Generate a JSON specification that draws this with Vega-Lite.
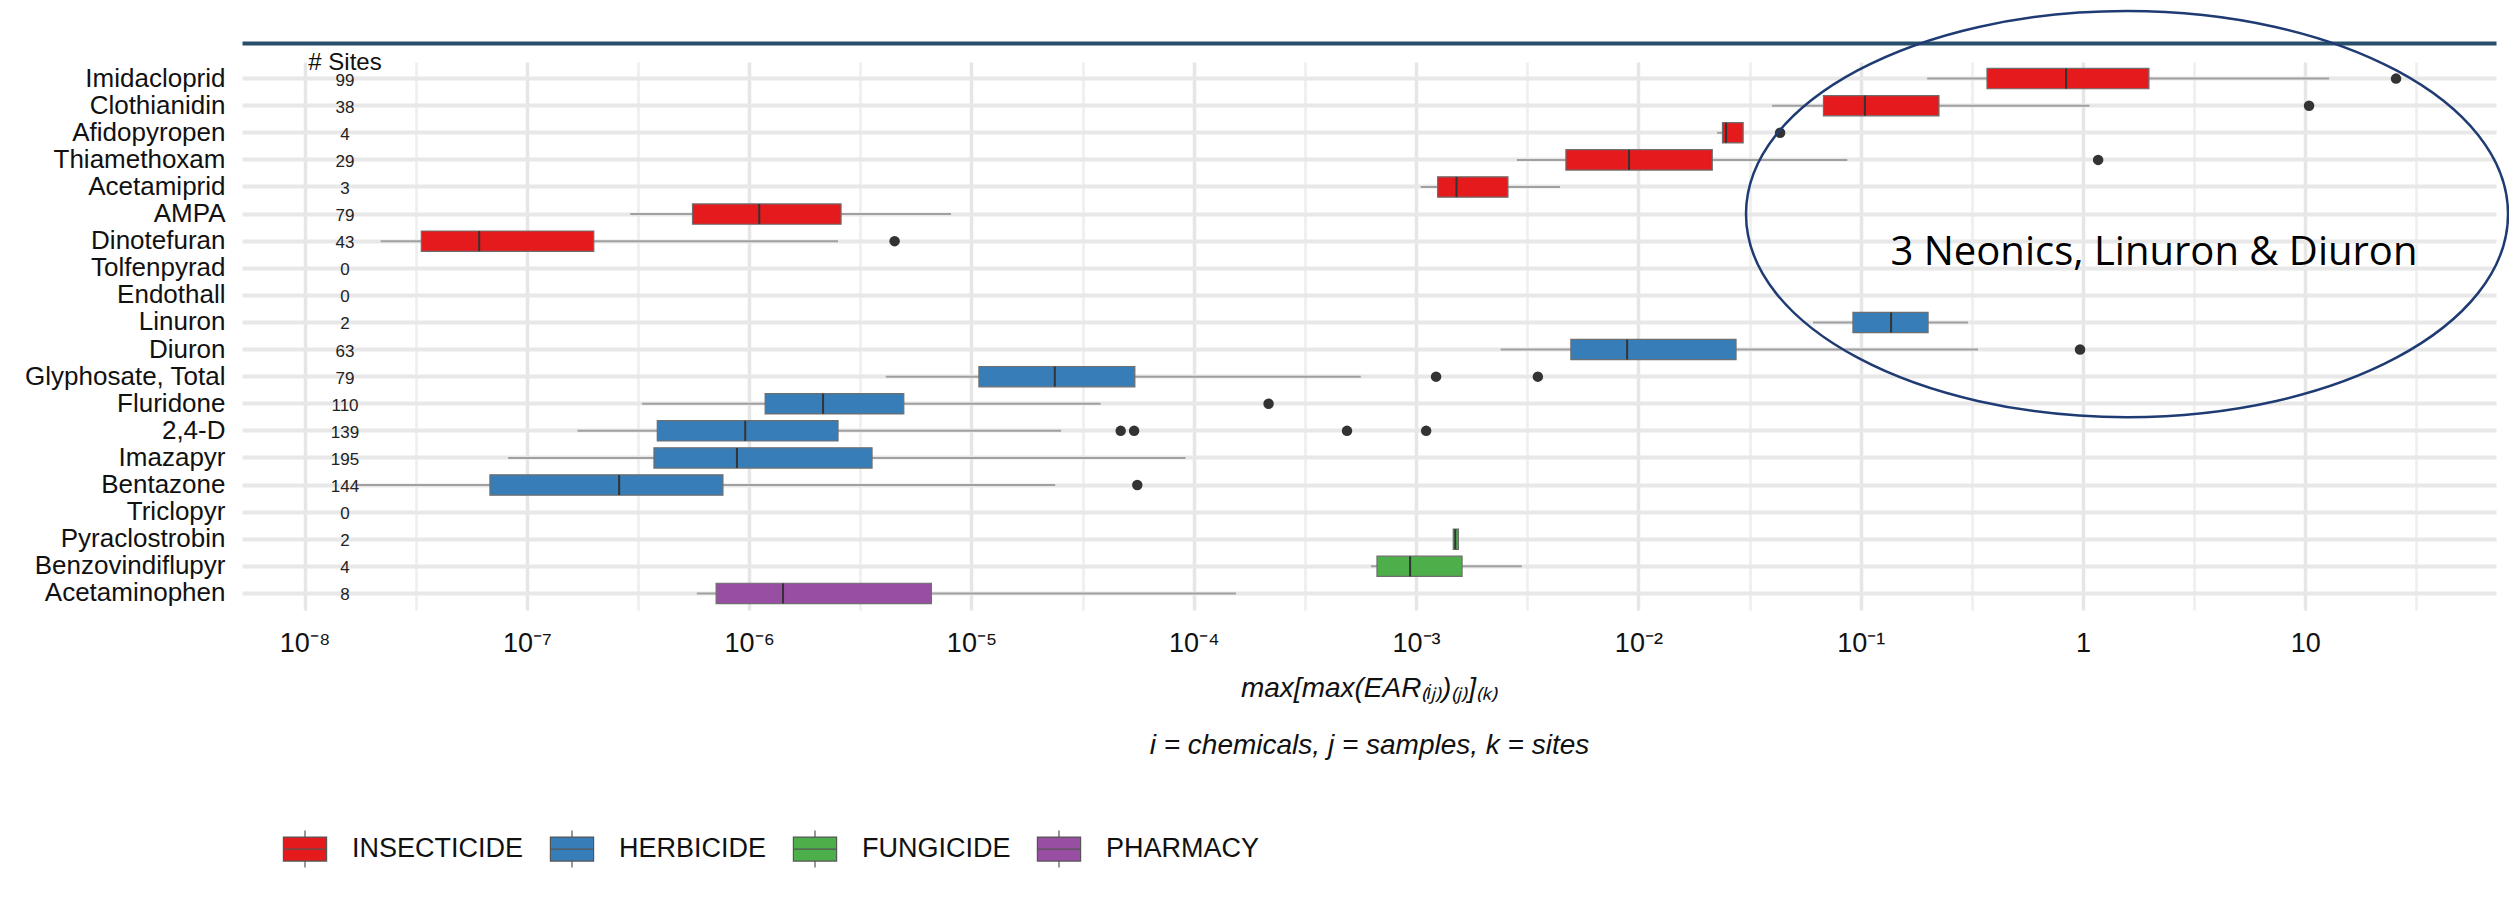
{
  "$schema": "https://vega.github.io/schema/vega-lite/v6.json",
  "width": 2254,
  "height": 548,
  "autosize": {"type": "none"},
  "padding": {"left": 242, "top": 62, "right": 13, "bottom": 294},
  "background": "white",
  "config": {
    "view": {"stroke": null},
    "font": "Liberation Sans, Arial, sans-serif",
    "text": {"font": "Liberation Sans, Arial, sans-serif"}
  },
  "datasets": {
    "boxes": [
      {"chem": "Imidacloprid", "cls": "INSECTICIDE", "lo": 0.199, "q1": 0.37, "med": 0.839, "q3": 1.98, "hi": 12.8},
      {"chem": "Clothianidin", "cls": "INSECTICIDE", "lo": 0.0399, "q1": 0.068, "med": 0.1045, "q3": 0.225, "hi": 1.07},
      {"chem": "Afidopyropen", "cls": "INSECTICIDE", "lo": 0.0226, "q1": 0.0239, "med": 0.0248, "q3": 0.0296, "hi": 0.0296},
      {"chem": "Thiamethoxam", "cls": "INSECTICIDE", "lo": 0.00284, "q1": 0.00472, "med": 0.00908, "q3": 0.0215, "hi": 0.0871},
      {"chem": "Acetamiprid", "cls": "INSECTICIDE", "lo": 0.00105, "q1": 0.00125, "med": 0.00152, "q3": 0.00259, "hi": 0.00444},
      {"chem": "AMPA", "cls": "INSECTICIDE", "lo": 2.92e-7, "q1": 5.56e-7, "med": 1.11e-6, "q3": 2.59e-6, "hi": 8.09e-6},
      {"chem": "Dinotefuran", "cls": "INSECTICIDE", "lo": 2.2e-8, "q1": 3.35e-8, "med": 6.1e-8, "q3": 2.0e-7, "hi": 2.51e-6},
      {"chem": "Linuron", "cls": "HERBICIDE", "lo": 0.061, "q1": 0.0923, "med": 0.137, "q3": 0.201, "hi": 0.304},
      {"chem": "Diuron", "cls": "HERBICIDE", "lo": 0.0024, "q1": 0.00497, "med": 0.0089, "q3": 0.0275, "hi": 0.337},
      {"chem": "Glyphosate, Total", "cls": "HERBICIDE", "lo": 4.12e-6, "q1": 1.08e-5, "med": 2.37e-5, "q3": 5.43e-5, "hi": 5.64e-4},
      {"chem": "Fluridone", "cls": "HERBICIDE", "lo": 3.3e-7, "q1": 1.18e-6, "med": 2.15e-6, "q3": 4.96e-6, "hi": 3.81e-5},
      {"chem": "2,4-D", "cls": "HERBICIDE", "lo": 1.69e-7, "q1": 3.86e-7, "med": 9.6e-7, "q3": 2.51e-6, "hi": 2.53e-5},
      {"chem": "Imazapyr", "cls": "HERBICIDE", "lo": 8.24e-8, "q1": 3.73e-7, "med": 8.81e-7, "q3": 3.57e-6, "hi": 9.18e-5},
      {"chem": "Bentazone", "cls": "HERBICIDE", "lo": 1.69e-8, "q1": 6.82e-8, "med": 2.6e-7, "q3": 7.62e-7, "hi": 2.38e-5},
      {"chem": "Pyraclostrobin", "cls": "FUNGICIDE", "lo": 0.00147, "q1": 0.00147, "med": 0.0015, "q3": 0.00155, "hi": 0.00155},
      {"chem": "Benzovindiflupyr", "cls": "FUNGICIDE", "lo": 6.27e-4, "q1": 6.67e-4, "med": 9.4e-4, "q3": 0.00161, "hi": 0.00299},
      {"chem": "Acetaminophen", "cls": "PHARMACY", "lo": 5.82e-7, "q1": 7.1e-7, "med": 1.42e-6, "q3": 6.6e-6, "hi": 1.55e-4}
    ],
    "outliers": [
      {"chem": "Imidacloprid", "v": 25.6},
      {"chem": "Clothianidin", "v": 10.4},
      {"chem": "Afidopyropen", "v": 0.0434},
      {"chem": "Thiamethoxam", "v": 1.17},
      {"chem": "Dinotefuran", "v": 4.51e-6},
      {"chem": "Diuron", "v": 0.97},
      {"chem": "Glyphosate, Total", "v": 0.00123},
      {"chem": "Glyphosate, Total", "v": 0.00353},
      {"chem": "Fluridone", "v": 2.17e-4},
      {"chem": "2,4-D", "v": 4.69e-5},
      {"chem": "2,4-D", "v": 5.39e-5},
      {"chem": "2,4-D", "v": 4.89e-4},
      {"chem": "2,4-D", "v": 0.00111},
      {"chem": "Bentazone", "v": 5.57e-5}
    ],
    "sites": [
      {"chem": "Imidacloprid", "n": 99},
      {"chem": "Clothianidin", "n": 38},
      {"chem": "Afidopyropen", "n": 4},
      {"chem": "Thiamethoxam", "n": 29},
      {"chem": "Acetamiprid", "n": 3},
      {"chem": "AMPA", "n": 79},
      {"chem": "Dinotefuran", "n": 43},
      {"chem": "Tolfenpyrad", "n": 0},
      {"chem": "Endothall", "n": 0},
      {"chem": "Linuron", "n": 2},
      {"chem": "Diuron", "n": 63},
      {"chem": "Glyphosate, Total", "n": 79},
      {"chem": "Fluridone", "n": 110},
      {"chem": "2,4-D", "n": 139},
      {"chem": "Imazapyr", "n": 195},
      {"chem": "Bentazone", "n": 144},
      {"chem": "Triclopyr", "n": 0},
      {"chem": "Pyraclostrobin", "n": 2},
      {"chem": "Benzovindiflupyr", "n": 4},
      {"chem": "Acetaminophen", "n": 8}
    ]
  },
  "resolve": {"axis": {"x": "independent"}},
  "layer": [
    {
      "data": {"name": "boxes"},
      "mark": {"type": "rule", "color": "#a0a0a0", "strokeWidth": 2},
      "encoding": {
        "y": {
          "field": "chem", "type": "nominal",
          "scale": {
            "type": "band",
            "domain": ["Imidacloprid", "Clothianidin", "Afidopyropen", "Thiamethoxam", "Acetamiprid", "AMPA", "Dinotefuran", "Tolfenpyrad", "Endothall", "Linuron", "Diuron", "Glyphosate, Total", "Fluridone", "2,4-D", "Imazapyr", "Bentazone", "Triclopyr", "Pyraclostrobin", "Benzovindiflupyr", "Acetaminophen"],
            "paddingInner": 0.25, "paddingOuter": 0.2375
          },
          "axis": {
            "title": null, "domain": false, "ticks": false, "tickSize": 0,
            "labelFontSize": 26, "labelColor": "#111111", "labelPadding": 17, "labelLimit": 0,
            "labelFont": "Liberation Sans, Arial, sans-serif",
            "grid": true, "gridColor": "#e8e8e8", "gridWidth": 4
          }
        },
        "x": {
          "field": "lo", "type": "quantitative",
          "scale": {"type": "log", "domain": [5.23e-9, 72.1], "nice": false},
          "axis": {
            "orient": "bottom",
            "values": [1e-8, 3.1623e-8, 1e-7, 3.1623e-7, 1e-6, 3.1623e-6, 1e-5, 3.1623e-5, 1e-4, 3.1623e-4, 0.001, 0.0031623, 0.01, 0.031623, 0.1, 0.31623, 1, 3.1623, 10, 31.623],
            "labelExpr": "abs(log(datum.value)/LN10 - round(log(datum.value)/LN10)) > 0.25 ? '' : (round(log(datum.value)/LN10) == 0 ? '1' : (round(log(datum.value)/LN10) == 1 ? '10' : '10⁻' + ['⁰','¹','²','³','⁴','⁵','⁶','⁷','⁸','⁹'][-round(log(datum.value)/LN10)]))",
            "labelOverlap": false, "labelFlush": false,
            "labelFontSize": 27, "labelColor": "#111111", "labelPadding": 20,
            "labelFont": "Liberation Sans, Arial, sans-serif",
            "ticks": false, "tickSize": 0, "domain": false,
            "grid": true,
            "gridColor": {"condition": {"test": "abs(log(datum.value)/LN10 - round(log(datum.value)/LN10)) > 0.25", "value": "#eeeeee"}, "value": "#e6e6e6"},
            "gridWidth": {"condition": {"test": "abs(log(datum.value)/LN10 - round(log(datum.value)/LN10)) > 0.25", "value": 2.5}, "value": 3.5},
            "title": ["max[max(EAR₍ᵢⱼ₎)₍ⱼ₎]₍ₖ₎", "i = chemicals, j = samples, k = sites"],
            "titleFont": "Liberation Sans, Arial, sans-serif",
            "titleFontSize": 28, "titleFontStyle": "italic", "titleFontWeight": "normal",
            "titleColor": "#111111", "titleLineHeight": 57, "titlePadding": 18
          }
        },
        "x2": {"field": "hi"}
      }
    },
    {
      "data": {"name": "boxes"},
      "mark": {"type": "bar", "stroke": "#6e6e6e", "strokeWidth": 1.2, "opacity": 1},
      "encoding": {
        "y": {"field": "chem", "type": "nominal"},
        "x": {"field": "q1", "type": "quantitative", "axis": null},
        "x2": {"field": "q3"},
        "color": {
          "field": "cls", "type": "nominal",
          "scale": {"domain": ["INSECTICIDE", "HERBICIDE", "FUNGICIDE", "PHARMACY"], "range": ["#E41A1C", "#377EB8", "#4DAF4A", "#984EA3"]},
          "legend": {
            "orient": "none", "legendX": 35, "legendY": 759, "direction": "horizontal",
            "title": null, "padding": 0,
            "symbolType": "M-0.8,-0.444H0.8V0.444H-0.8Z M-0.8,0H0.8 M0,-0.444V-0.685 M0,0.444V0.685",
            "symbolSize": 2916, "symbolStrokeColor": "#555555", "symbolStrokeWidth": 1.2, "symbolOpacity": 1,
            "labelFontSize": 27, "labelColor": "#111111", "labelOffset": 19, "columnPadding": 20, "labelLimit": 0,
            "labelFont": "Liberation Sans, Arial, sans-serif"
          }
        }
      }
    },
    {
      "data": {"name": "boxes"},
      "mark": {"type": "tick", "color": "#333333", "thickness": 2, "size": 20, "opacity": 1},
      "encoding": {
        "y": {"field": "chem", "type": "nominal"},
        "x": {"field": "med", "type": "quantitative", "axis": null}
      }
    },
    {
      "data": {"name": "outliers"},
      "mark": {"type": "circle", "color": "#333333", "opacity": 1, "size": 110},
      "encoding": {
        "y": {"field": "chem", "type": "nominal"},
        "x": {
          "field": "v", "type": "quantitative",
          "axis": {
            "orient": "top", "offset": 19, "domain": true, "domainColor": "#284e6b", "domainWidth": 4,
            "labels": false, "ticks": false, "grid": false, "title": null
          }
        }
      }
    },
    {
      "data": {"name": "sites"},
      "mark": {"type": "text", "fontSize": 17, "color": "#222222", "baseline": "middle", "align": "center", "dy": 2},
      "encoding": {
        "y": {"field": "chem", "type": "nominal"},
        "x": {"datum": 1.52e-8, "type": "quantitative", "axis": null},
        "text": {"field": "n", "type": "quantitative"}
      }
    },
    {
      "data": {"values": [{"label": "# Sites"}]},
      "mark": {"type": "text", "fontSize": 24, "color": "#111111", "baseline": "alphabetic", "align": "center", "dy": -9},
      "encoding": {
        "y": {"datum": "Imidacloprid", "type": "nominal"},
        "x": {"datum": 1.52e-8, "type": "quantitative", "axis": null},
        "text": {"field": "label", "type": "nominal"}
      }
    },
    {
      "data": {"values": [{"label": "3 Neonics, Linuron & Diuron"}]},
      "mark": {"type": "point", "shape": "M-1,0A1,0.533,0,1,0,1,0A1,0.533,0,1,0,-1,0Z", "size": 580644, "filled": false, "fill": null, "stroke": "#1f3b73", "strokeWidth": 2.5, "opacity": 1},
      "encoding": {
        "y": {"datum": "AMPA", "type": "nominal"},
        "x": {"datum": 1.578, "type": "quantitative", "axis": null}
      }
    },
    {
      "data": {"values": [{"label": "3 Neonics, Linuron & Diuron"}]},
      "mark": {"type": "text", "font": "Open Sans", "fontSize": 40, "color": "#000000", "baseline": "alphabetic", "align": "center", "dy": -3},
      "encoding": {
        "y": {"datum": "Tolfenpyrad", "type": "nominal"},
        "x": {"datum": 2.086, "type": "quantitative", "axis": null},
        "text": {"field": "label", "type": "nominal"}
      }
    }
  ]
}
